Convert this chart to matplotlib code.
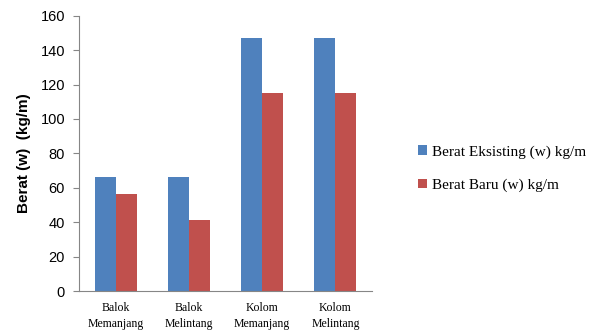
import matplotlib.pyplot as plt
import numpy as np

categories = ["Balok\nMemanjang", "Balok\nMelintang", "Kolom\nMemanjang", "Kolom\nMelintang"]
berat_eksisting = [66, 66, 147, 147]
berat_baru = [56.5, 41.5, 115, 115]
series_labels = ["Berat Eksisting (w) kg/m", "Berat Baru (w) kg/m"]

fig = plt.figure(figsize=(6.01, 3.31), dpi=100)
ax = fig.add_axes([0.1314, 0.1208, 0.4876, 0.8318])

x = np.arange(len(categories))
w = 0.2857
ax.bar(x - w / 2, berat_eksisting, width=w, color="#4f81bd", label=series_labels[0])
ax.bar(x + w / 2, berat_baru, width=w, color="#c0504d", label=series_labels[1])

ax.set_xlim(-0.5, len(categories) - 0.5)
ax.set_ylim(0, 160)
ax.set_yticks(range(0, 161, 20))
ax.set_xticks(x)
ax.set_xticklabels(categories, family="Liberation Serif", fontsize=8.5, linespacing=1.45)
ax.tick_params(axis="x", length=0, pad=8)
ax.tick_params(axis="y", length=4, color="#868686", labelsize=10.5, pad=6)
for lab in ax.get_yticklabels():
    lab.set_family("Liberation Sans")

for side in ["top", "right"]:
    ax.spines[side].set_visible(False)
for side in ["left", "bottom"]:
    ax.spines[side].set_color("#868686")

ax.set_ylabel("Berat (w)  (kg/m)", family="Liberation Sans", fontweight="bold", fontsize=11, labelpad=7)

ax.legend(loc="center left", bbox_to_anchor=(1.13, 0.445), frameon=False, borderpad=0,
          prop={"family": "Liberation Serif", "size": 11},
          handlelength=0.6, handleheight=0.6, handletextpad=0.3, labelspacing=1.3)

plt.savefig("out.png", dpi=100)
